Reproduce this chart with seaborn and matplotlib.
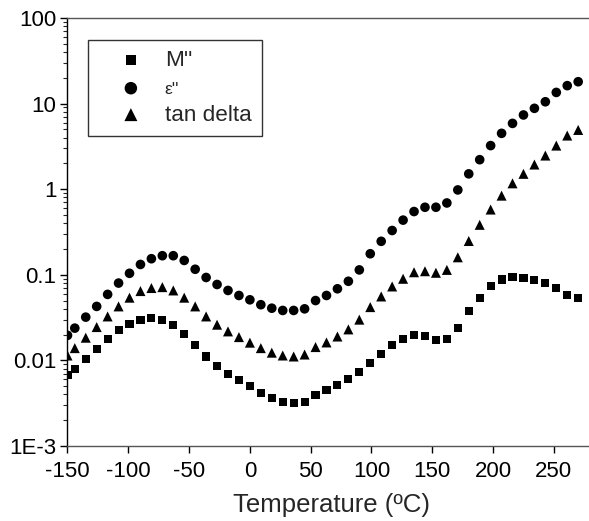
import numpy as np
import pandas as pd
import matplotlib
matplotlib.use("Agg")
import matplotlib.pyplot as plt
import matplotlib.ticker as mticker
import seaborn as sns

# Temperature points (ºC)
temps = [-150, -144, -135, -126, -117, -108, -99, -90, -81, -72, -63, -54, -45, -36,
         -27, -18, -9, 0, 9, 18, 27, 36, 45, 54, 63, 72, 81, 90, 99, 108, 117, 126,
         135, 144, 153, 162, 171, 180, 189, 198, 207, 216, 225, 234, 243, 252, 261, 270]

m_loss = [0.0067, 0.0080, 0.0105, 0.0137, 0.0177, 0.0224, 0.0268, 0.0299, 0.0312, 0.0299,
          0.0256, 0.0205, 0.0152, 0.0111, 0.0086, 0.0070, 0.00585, 0.0050, 0.00415, 0.00363,
          0.00330, 0.00318, 0.00326, 0.0039, 0.00447, 0.0051, 0.0060, 0.0073, 0.0094, 0.0120,
          0.0150, 0.0179, 0.0196, 0.0192, 0.0171, 0.0179, 0.0241, 0.0373, 0.054, 0.0736,
          0.088, 0.0937, 0.0923, 0.0875, 0.0807, 0.070, 0.0585, 0.054]

eps_loss = [0.0196, 0.0238, 0.032, 0.0427, 0.059, 0.080, 0.104, 0.132, 0.154, 0.167,
            0.167, 0.147, 0.116, 0.093, 0.077, 0.0656, 0.0573, 0.051, 0.0447, 0.0407,
            0.0383, 0.0383, 0.040, 0.050, 0.0573, 0.0686, 0.084, 0.114, 0.176, 0.246,
            0.329, 0.435, 0.548, 0.615, 0.615, 0.69, 0.98, 1.51, 2.21, 3.23,
            4.49, 5.87, 7.36, 8.8, 10.5, 13.5, 16.2, 18.0]

tan_delta = [0.0114, 0.0139, 0.0184, 0.0245, 0.0326, 0.0427, 0.054, 0.0645, 0.070, 0.0717,
             0.0656, 0.054, 0.0427, 0.0326, 0.0261, 0.0218, 0.0187, 0.0161, 0.0139, 0.0123,
             0.0114, 0.0111, 0.0117, 0.0143, 0.0162, 0.0190, 0.023, 0.0299, 0.0419, 0.0558,
             0.073, 0.0898, 0.107, 0.110, 0.1055, 0.114, 0.160, 0.248, 0.383, 0.578,
             0.84, 1.17, 1.51, 1.94, 2.47, 3.23, 4.23, 4.92]

series_names = ["M''", "\u03b5''", "tan delta"]
markers = {"M''": "s", "\u03b5''": "o", "tan delta": "^"}
sizes = {"M''": 34, "\u03b5''": 48, "tan delta": 52}

df = pd.concat([
    pd.DataFrame({"T": temps, "val": vals, "series": name})
    for name, vals in zip(series_names, [m_loss, eps_loss, tan_delta])
])

sns.set_style("ticks")
plt.rcParams['font.family'] = ['Liberation Sans', 'DejaVu Sans']
plt.rcParams['axes.unicode_minus'] = False

fig = plt.figure(figsize=(5.89, 5.21), dpi=100)
ax = fig.add_axes([0.1146, 0.144, 0.898, 0.8215])

for name in series_names:
    sub = df[df["series"] == name]
    sns.scatterplot(data=sub, x="T", y="val", marker=markers[name], color="black",
                    s=sizes[name], edgecolor="none", ax=ax, label=name)

ax.set_yscale("log")
ax.set_ylim(1e-3, 100)
ax.set_xlim(-150, 285)
ax.set_xticks([-150, -100, -50, 0, 50, 100, 150, 200, 250])
ax.set_yticks([1e-3, 1e-2, 1e-1, 1, 10, 100])
ax.yaxis.set_major_formatter(mticker.FixedFormatter(["1E-3", "0.01", "0.1", "1", "10", "100"]))
ax.yaxis.set_minor_locator(mticker.LogLocator(base=10, subs=np.arange(2, 10)))
ax.yaxis.set_minor_formatter(mticker.NullFormatter())

ax.tick_params(axis="both", which="major", direction="out", length=5, width=1,
               labelsize=16, color="black", labelcolor="black")
ax.tick_params(axis="x", which="major", pad=6)
ax.tick_params(axis="y", which="major", pad=3)
ax.tick_params(axis="y", which="minor", direction="out", length=3, width=0.8)
for sp in ax.spines.values():
    sp.set_color("black")
    sp.set_linewidth(1)
ax.spines["top"].set_color("#555555")
ax.spines["bottom"].set_color("#555555")

ax.set_xlabel("Temperature (\u00baC)", fontsize=18.5, labelpad=8)
ax.set_ylabel("")

leg = ax.legend(loc="upper left", bbox_to_anchor=(0.039, 0.949), borderaxespad=0,
                frameon=True, fancybox=False, edgecolor="black", fontsize=16.2,
                handletextpad=0.05, labelspacing=0.33, borderpad=0.45, handlelength=2.9,
                markerscale=1.3)
leg.get_frame().set_linewidth(1)
leg.get_texts()[1].set_fontsize(12.5)

fig.savefig("out.png", dpi=100)
